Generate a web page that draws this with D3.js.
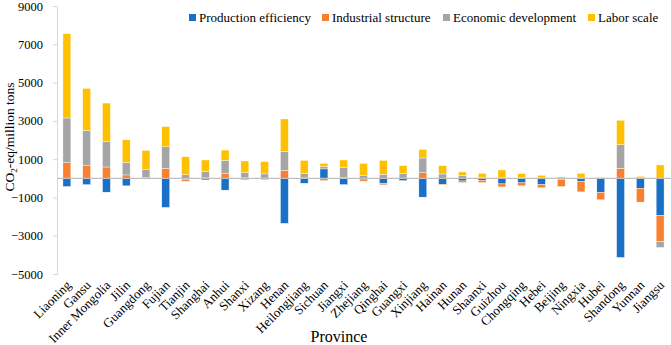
<!DOCTYPE html>
<html>
    <head>
        <meta charset="utf-8">
        <title>Decomposition by province</title>
        <script src="https://d3js.org/d3.v7.min.js"></script>
        <style>
            body { margin: 0; background: #fff; }
            svg text { font-family: "Liberation Serif", "Times New Roman", "DejaVu Serif", serif; fill: #000; }
        </style>
    </head>
    <body>
        <script>
            const provinces = ["Liaoning","Gansu","Inner Mongolia","Jilin","Guangdong","Fujian","Tianjin","Shanghai",
                "Anhui","Shanxi","Xizang","Henan","Heilongjiang","Sichuan","Jiangxi","Zhejiang","Qinghai","Guangxi",
                "Xinjiang","Hainan","Hunan","Shaanxi","Guizhou","Chongqing","Hebei","Beijing","Ningxia","Hubei",
                "Shandong","Yunnan","Jiangsu"];
            const seriesNames = ["Production efficiency","Industrial structure","Economic development","Labor scale"];
            const production = [-430,-330,-725,-395,-40,-1520,-70,-85,-620,-70,-60,-2355,-260,490,-330,-85,
                -275,-120,-985,-310,-140,-100,-295,-240,-330,-50,-155,-740,-4135,-520,-1940];
            const industrial = [815,660,590,175,30,520,-85,20,245,20,10,415,20,-120,30,-70,
                -70,10,295,-30,-85,-125,-155,-155,-170,-380,-555,-385,520,-725,-1365];
            const economic = [2335,1835,1315,655,420,1125,190,345,690,275,220,990,225,115,525,140,
                210,235,765,225,140,60,20,30,20,10,20,10,1230,20,-310];
            const labor = [4400,2200,2025,1180,1005,1055,935,590,540,610,640,1695,690,175,400,640,
                725,415,445,435,190,200,415,215,135,60,240,30,1280,85,695];
            const yTicks = [-5000,-3000,-1000,1000,3000,5000,7000,9000];
            const colors = ["#1a6fc6","#f8802f","#a5a5a5","#ffc000"];
            const serif = "'Liberation Serif', 'Times New Roman', serif";

            const W = 671, H = 345;
            const table = provinces.map((p, i) => ({
                province: p,
                [seriesNames[0]]: production[i],
                [seriesNames[1]]: industrial[i],
                [seriesNames[2]]: economic[i],
                [seriesNames[3]]: labor[i]
            }));

            const svg = d3.select("body").append("svg")
                .attr("width", W)
                .attr("height", H)
                .style("font-family", serif)
            ;

            const x = d3.scaleBand().domain(provinces).range([57, 670])
                .paddingInner(0.6).paddingOuter(0.3);
            const y = d3.scaleLinear().domain([-5000, 9000]).range([274, 6]);

            const stacked = d3.stack().keys(seriesNames)
                .offset(d3.stackOffsetDiverging)(table);

            // y axis
            const yAxis = svg.append("g")
                .attr("transform", "translate(57,0)")
                .call(d3.axisLeft(y).tickValues(yTicks).tickSize(4).tickPadding(10).tickFormat(d3.format("d")))
                .attr("font-family", serif);
            yAxis.select(".domain").attr("stroke", "#d9d9d9");
            yAxis.selectAll(".tick line").attr("stroke", "#d9d9d9");
            yAxis.selectAll(".tick text").style("font-size", "12.5px");

            // bars
            svg.append("g").selectAll("g")
                .data(stacked).join("g")
                .attr("fill", (d, i) => colors[i])
                .selectAll("rect")
                .data(d => d).join("rect")
                .attr("x", d => x(d.data.province))
                .attr("width", x.bandwidth())
                .attr("y", d => y(Math.max(d[0], d[1])))
                .attr("height", d => Math.abs(y(d[0]) - y(d[1])))
                .attr("stroke", "#fff")
                .attr("stroke-width", 0.4)
            ;

            // zero line
            svg.append("line")
                .attr("x1", 57).attr("x2", W)
                .attr("y1", y(0)).attr("y2", y(0))
                .attr("stroke", "#bfbfbf").attr("stroke-width", 1.2);

            // province labels
            svg.append("g").selectAll("text")
                .data(provinces).join("text")
                .attr("transform", d => `translate(${x(d) + x.bandwidth() / 2 + 5},286) rotate(-45)`)
                .attr("text-anchor", "end")
                .style("font-size", "13px")
                .text(d => d);

            // axis titles
            const yt = svg.append("text")
                .attr("transform", "translate(14,137) rotate(-90)")
                .attr("text-anchor", "middle")
                .style("font-size", "13.5px");
            yt.append("tspan").text("CO");
            yt.append("tspan").attr("dy", 3).style("font-size", "9px").text("2");
            yt.append("tspan").attr("dy", -3).text("-eq/million tons");

            svg.append("text")
                .attr("x", 339).attr("y", 342)
                .attr("text-anchor", "middle")
                .style("font-size", "16px")
                .text("Province");

            // legend
            const legendX = [189, 322, 443, 588];
            const legend = svg.append("g").selectAll("g")
                .data(seriesNames).join("g")
                .attr("transform", (d, i) => `translate(${legendX[i]},14)`);
            legend.append("rect")
                .attr("width", 7).attr("height", 7)
                .attr("fill", (d, i) => colors[i]);
            legend.append("text")
                .attr("x", 10).attr("y", 8)
                .style("font-size", "13px")
                .text(d => d);
        </script>
    </body>
</html>
